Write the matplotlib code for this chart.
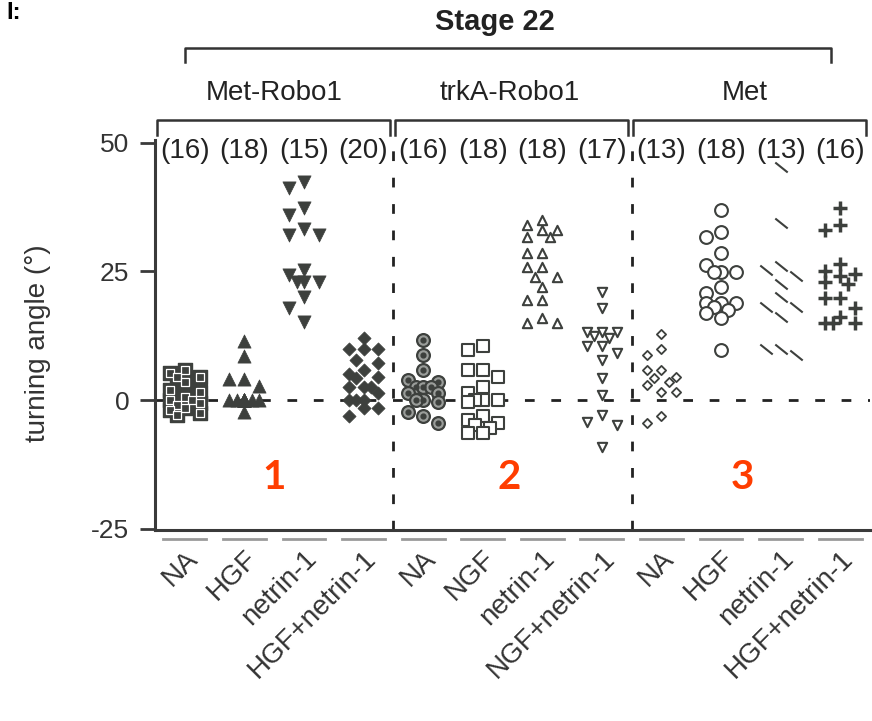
import numpy as np
import matplotlib
matplotlib.use("Agg")
import matplotlib.pyplot as plt
from matplotlib.path import Path
from matplotlib.transforms import blended_transform_factory, ScaledTranslation

plt.rcParams['font.family'] = ['Liberation Sans', 'DejaVu Sans']
plt.rcParams['axes.unicode_minus'] = False

# turning angles (deg), one list per column
met_robo_na = [5.8, 5.2, 4.5, 4.5, 3.5, 2.0, 1.5, 0.5, 0, 0, -0.5, -1, -1.5, -2, -2.5, -3]
met_robo_hgf = [11.5, 8.5, 4, 4, 2.7, 0, 0, 0, 0, 0, 0, 0, 0, 0, 0, 0, 0, -2.3]
met_robo_netrin = [42.4, 41.1, 37.2, 35.9, 33.3, 32, 32, 25.2, 24.3, 23, 23, 23, 20, 17.8, 15.2]
met_robo_both = [12, 10, 10, 10, 7.8, 7.1, 5.8, 5, 4.5, 4.2, 2.6, 2.6, 2.6, 1.3, 0, 0, 0,
                 -1.6, -1.6, -3.2]
trka_robo_na = [11.6, 8.7, 5.8, 3.9, 3.5, 2.6, 2.6, 2.6, 1.3, 1.3, 0, 0, -0.3, -2.3, -3.2, -4.5]
trka_robo_ngf = [10.4, 9.7, 5.8, 5.8, 4.5, 2.6, 1.3, 0, 0, 0, -0.3, -3.2, -3.9, -4.5, -4.9,
                 -5.5, -6.4, -6.4]
trka_robo_netrin = [35, 34, 33, 33, 31.7, 31.7, 28.5, 28.5, 25.9, 25.9, 23.9, 23.9, 22,
                    19.4, 19.4, 15.9, 14.9, 14.9]
trka_robo_both = [21, 17.8, 13.3, 13.3, 13.3, 12.5, 12, 10.4, 10.4, 9.1, 7.8, 4.2, 1, -2.9,
                  -4.2, -4.9, -9.1]
met_na = [12.9, 10, 8.7, 5.8, 5.8, 4.5, 4.3, 3.5, 2.9, 1.6, 1.6, -3.2, -4.5]
met_hgf = [36.9, 32.7, 31.7, 28.5, 26.2, 24.9, 24.9, 24.9, 22, 20.7, 18.8, 18.8, 18.8, 18,
           17.5, 16.8, 15.9, 9.7]
met_netrin = [45.3, 34.3, 26, 25.2, 24, 22.6, 20, 18.1, 18.1, 16.2, 10, 10, 8.7]
met_both = [37.2, 34, 33, 26.5, 25, 24.5, 24, 23, 22.6, 19.8, 19.8, 17.8, 16.2, 14.9, 14.9, 14.9]

columns = [met_robo_na, met_robo_hgf, met_robo_netrin, met_robo_both,
           trka_robo_na, trka_robo_ngf, trka_robo_netrin, trka_robo_both,
           met_na, met_hgf, met_netrin, met_both]
tick_labels = ["NA", "HGF", "netrin-1", "HGF+netrin-1",
               "NA", "NGF", "netrin-1", "NGF+netrin-1",
               "NA", "HGF", "netrin-1", "HGF+netrin-1"]
groups = ["Met-Robo1", "trkA-Robo1", "Met"]
group_numbers = ["1", "2", "3"]

dark = '#3d403d'
backslash = Path([(-1, 0.8), (1, -0.8)], [Path.MOVETO, Path.LINETO])


def swarm(vals, ppx, ppy, diam=12.0, step=0.25):
    # spread points sideways when they sit too close (prism style column scatter)
    cands = [0, -step, step, -step / 2, step / 2]
    offs = np.zeros(len(vals))
    placed = []
    for i in np.argsort(vals)[::-1]:
        best, bestd = 0, -1
        for c in cands:
            if placed:
                d = min(np.hypot((c - o) * ppx, (vals[i] - v) * ppy) for o, v in placed)
            else:
                d = np.inf
            if d >= diam:
                best = c
                break
            if d > bestd:
                best, bestd = c, d
        offs[i] = best
        placed.append((best, vals[i]))
    return offs


fig = plt.figure(figsize=(8.72, 7.21), dpi=100)
W, H = 872, 721
ax = fig.add_axes([155 / W, 1 - 530 / H, (870 - 155) / W, (530 - 140) / H])
ax.set_xlim(-0.5, 11.5)
ax.set_ylim(-25.24, 50.49)

# pixel per data unit from the axes transform
p0 = ax.transData.transform((0, 0))
p1 = ax.transData.transform((1, 1))
ppx, ppy = p1[0] - p0[0], p1[1] - p0[1]

ax.axhline(0, color='#222222', lw=2, dashes=(3.5, 6), zorder=1)
for xv in [3.5, 7.5]:
    ax.axvline(xv, color='#222222', lw=2, dashes=(3.5, 6), zorder=1)

for i, vals in enumerate(columns):
    v = np.array(vals, dtype=float)
    x = i + swarm(v, ppx, ppy)
    if i == 0:
        ax.scatter(x, v, marker='s', s=95, fc=dark, ec=dark, lw=1, zorder=3)
        ax.scatter(x, v, marker='s', s=40, fc=dark, ec='white', lw=0.9, zorder=3)
    elif i == 1:
        ax.scatter(x, v, marker='^', s=90, fc=dark, ec=dark, lw=0.5, zorder=3)
    elif i == 2:
        ax.scatter(x, v, marker='v', s=90, fc=dark, ec=dark, lw=0.5, zorder=3)
    elif i == 3:
        ax.scatter(x, v, marker='D', s=45, fc=dark, ec=dark, lw=0.5, zorder=3)
    elif i == 4:
        ax.scatter(x, v, marker='o', s=85, fc='#9a9d9a', ec=dark, lw=1.6, zorder=3)
        ax.scatter(x, v, marker='o', s=12, fc=dark, ec=dark, zorder=3)
    elif i == 5:
        ax.scatter(x, v, marker='s', s=85, fc='white', ec=dark, lw=1.5, zorder=3)
    elif i == 6:
        ax.scatter(x, v, marker='^', s=45, fc='white', ec=dark, lw=1.5, zorder=3)
    elif i == 7:
        ax.scatter(x, v, marker='v', s=45, fc='white', ec=dark, lw=1.5, zorder=3)
    elif i == 8:
        ax.scatter(x, v, marker='D', s=22, fc='white', ec=dark, lw=1.3, zorder=3)
    elif i == 9:
        ax.scatter(x, v, marker='o', s=85, fc='white', ec=dark, lw=1.5, zorder=3)
    elif i == 10:
        ax.scatter(x, v, marker=backslash, s=80, c=dark, lw=1.5, zorder=3)
    else:
        ax.scatter(x, v, marker='+', s=100, c=dark, lw=2.5, zorder=3)
    ax.text(i, 0.972, "(%d)" % len(vals), transform=blended_transform_factory(ax.transData, ax.transAxes),
            ha='center', va='center', fontsize=20, color='#222222')

# axes styling
for sp in ['top', 'right']:
    ax.spines[sp].set_visible(False)
for sp in ['left', 'bottom']:
    ax.spines[sp].set_linewidth(2.2)
    ax.spines[sp].set_color('#3a3a3a')
ax.set_yticks([-25, 0, 25, 50])
ax.tick_params(axis='y', direction='out', length=10.5, width=2, color='#3a3a3a',
               labelsize=19, labelcolor='#333333', pad=8)
ax.set_xticks(range(len(tick_labels)))
ax.set_xticklabels(tick_labels, rotation=45, ha='right', va='top', fontsize=20, color='#333333')
ax.tick_params(axis='x', length=0, pad=11)
for lbl in ax.get_xticklabels():
    lbl.set_transform(lbl.get_transform() + ScaledTranslation(18 / 100, 0, fig.dpi_scale_trans))

# grey underlines below each column
bx = blended_transform_factory(ax.transData, ax.transAxes)
for i in range(len(tick_labels)):
    ax.plot([i - 0.36, i + 0.36], [-0.023, -0.023], color='#9a9a9a', lw=2,
            transform=bx, clip_on=False)

# red group numbers
for g, num in enumerate(group_numbers):
    ax.text([1.5, 5.45, 9.35][g], -15, num, ha='center', va='center', fontsize=29,
            fontweight='bold', color='#ff3d00', family=['Lato', 'DejaVu Sans'])

# brackets on top
bf = blended_transform_factory(ax.transData, fig.transFigure)
y_low, y_low_tick = 1 - 120 / H, 1 - 135 / H
for g, name in enumerate(groups):
    x0, x1 = g * 4 - 0.47, g * 4 + 3.44
    ax.plot([x0, x0, x1, x1], [y_low_tick, y_low, y_low, y_low_tick], color='#333333',
            lw=1.8, transform=bf, clip_on=False)
    ax.text([1.5, 5.45, 9.4][g], 1 - 93 / H, name, transform=bf, ha='center', va='center',
            fontsize=20, color='#222222')
y_top, y_top_tick = 1 - 48 / H, 1 - 62 / H
ax.plot([0, 0, 10.85, 10.85], [y_top_tick, y_top, y_top, y_top_tick], color='#333333',
        lw=1.8, transform=bf, clip_on=False)
ax.text(5.2, 1 - 22 / H, "Stage 22", transform=bf, ha='center', va='center', fontsize=21,
        fontweight='bold', color='#222222')

fig.text(38 / W, 1 - 343 / H, "turning angle (°)", rotation=90, ha='center', va='center',
         fontsize=20, color='#333333')
fig.text(6 / W, 1 - 1 / H, "I:", ha='left', va='top', fontsize=17, fontweight='bold')

fig.savefig("out.png", dpi=100)
